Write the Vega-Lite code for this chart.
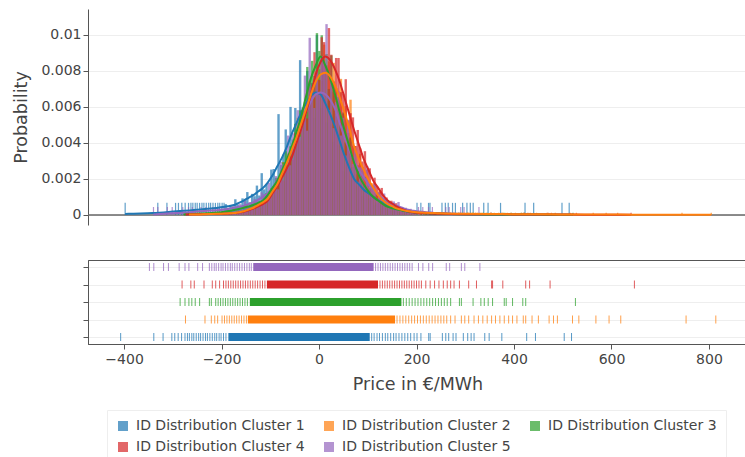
{
"$schema": "https://vega.github.io/schema/vega-lite/v6.json",
"background": "white",
"padding": {"left": 12, "top": 9, "right": 0, "bottom": 0},
"spacing": 34,
"config": {
  "font": "DejaVu Sans",
  "view": {"stroke": null},
  "axis": {"labelFont": "DejaVu Sans", "titleFont": "DejaVu Sans", "labelColor": "#444", "titleColor": "#444", "labelFontSize": 14, "titleFontSize": 17.5, "titleFontWeight": "normal", "domainColor": "#555", "tickColor": "#555", "tickSize": 5, "gridColor": "#eeeeee"}
},
"datasets": {
"clusters": [{"c":"1","h":0.00067},{"c":"2","h":0.00012},{"c":"3","h":0.00012},{"c":"4","h":0.00012},{"c":"5","h":0.00044}],
"band": [{"c":"1","lo":-186,"hi":104},{"c":"2","lo":-146,"hi":156},{"c":"3","lo":-142,"hi":169},{"c":"4","lo":-107,"hi":121},{"c":"5","lo":-135,"hi":112}],
"hist": [
{"a":-200,"b":-195,"1":0.0006,"2":0.00009,"3":0.00017,"4":0.00008,"5":0.00025},
{"a":-195,"b":-190,"1":0.00034,"2":0.00008,"3":0.00025,"4":0.00007,"5":0.00041},
{"a":-190,"b":-185,"1":0.00056,"2":0.00011,"3":0.00023,"4":0.0001,"5":0.00022},
{"a":-185,"b":-180,"1":0.00043,"2":0.00008,"3":0.00021,"4":0.00009,"5":0.00055},
{"a":-180,"b":-175,"1":0.00087,"2":0.00011,"3":0.00032,"4":0.00013,"5":0.00041},
{"a":-175,"b":-170,"1":0.00058,"2":0.00016,"3":0.0003,"4":0.00013,"5":0.00031},
{"a":-170,"b":-165,"1":0.00043,"2":0.00014,"3":0.00039,"4":0.00012,"5":0.0006},
{"a":-165,"b":-160,"1":0.00092,"2":0.00021,"3":0.00032,"4":0.00019,"5":0.00044},
{"a":-160,"b":-155,"1":0.00084,"2":0.00021,"3":0.0005,"4":0.00019,"5":0.0008},
{"a":-155,"b":-150,"1":0.00127,"2":0.00034,"3":0.00046,"4":0.00028,"5":0.00046},
{"a":-150,"b":-145,"1":0.00069,"2":0.00029,"3":0.00044,"4":0.00026,"5":0.00069},
{"a":-145,"b":-140,"1":0.00117,"2":0.00039,"3":0.00058,"4":0.00035,"5":0.00048},
{"a":-140,"b":-135,"1":0.00104,"2":0.00035,"3":0.00073,"4":0.00046,"5":0.00089},
{"a":-135,"b":-130,"1":0.00163,"2":0.00059,"3":0.00059,"4":0.00037,"5":0.00081},
{"a":-130,"b":-125,"1":0.00108,"2":0.00059,"3":0.00071,"4":0.00051,"5":0.00053},
{"a":-125,"b":-120,"1":0.00232,"2":0.00059,"3":0.00065,"4":0.00063,"5":0.00125},
{"a":-120,"b":-115,"1":0.00142,"2":0.0009,"3":0.00097,"4":0.00059,"5":0.00116},
{"a":-115,"b":-110,"1":0.00172,"2":0.00081,"3":0.00122,"4":0.00086,"5":0.00092},
{"a":-110,"b":-105,"1":0.00133,"2":0.0011,"3":0.00108,"4":0.00086,"5":0.00179},
{"a":-105,"b":-100,"1":0.00252,"2":0.00102,"3":0.00147,"4":0.00116,"5":0.00129},
{"a":-100,"b":-95,"1":0.00255,"2":0.00147,"3":0.00152,"4":0.00156,"5":0.0016},
{"a":-95,"b":-90,"1":0.00206,"2":0.00184,"3":0.00207,"4":0.00135,"5":0.00216},
{"a":-90,"b":-85,"1":0.0056,"2":0.00167,"3":0.00205,"4":0.00173,"5":0.00142},
{"a":-85,"b":-80,"1":0.00277,"2":0.00215,"3":0.00212,"4":0.00218,"5":0.00296},
{"a":-80,"b":-75,"1":0.00335,"2":0.00294,"3":0.00292,"4":0.0019,"5":0.00281},
{"a":-75,"b":-70,"1":0.00475,"2":0.00234,"3":0.00354,"4":0.00285,"5":0.00257},
{"a":-70,"b":-65,"1":0.00318,"2":0.00341,"3":0.00279,"4":0.00261,"5":0.00441},
{"a":-65,"b":-60,"1":0.006,"2":0.00328,"3":0.00381,"4":0.00336,"5":0.00276},
{"a":-60,"b":-55,"1":0.00419,"2":0.00399,"3":0.0038,"4":0.00306,"5":0.00454},
{"a":-55,"b":-50,"1":0.00594,"2":0.00374,"3":0.00506,"4":0.00456,"5":0.00413},
{"a":-50,"b":-45,"1":0.00446,"2":0.0054,"3":0.00435,"4":0.0042,"5":0.00582},
{"a":-45,"b":-40,"1":0.0086,"2":0.0049,"3":0.00581,"4":0.00414,"5":0.00435},
{"a":-40,"b":-35,"1":0.00582,"2":0.00477,"3":0.00578,"4":0.00553,"5":0.00596},
{"a":-35,"b":-30,"1":0.00547,"2":0.00627,"3":0.00538,"4":0.00575,"5":0.00774},
{"a":-30,"b":-25,"1":0.008,"2":0.0058,"3":0.00822,"4":0.00536,"5":0.00468},
{"a":-25,"b":-20,"1":0.00618,"2":0.00748,"3":0.00735,"4":0.00742,"5":0.00984},
{"a":-20,"b":-15,"1":0.00732,"2":0.0069,"3":0.00856,"4":0.00663,"5":0.00704},
{"a":-15,"b":-10,"1":0.0054,"2":0.00653,"3":0.00772,"4":0.00904,"5":0.00594},
{"a":-10,"b":-5,"1":0.01,"2":0.00825,"3":0.0101,"4":0.00798,"5":0.00808},
{"a":-5,"b":0,"1":0.00675,"2":0.00809,"3":0.00911,"4":0.0075,"5":0.00678},
{"a":0,"b":5,"1":0.00594,"2":0.00744,"3":0.00998,"4":0.00987,"5":0.00881},
{"a":5,"b":10,"1":0.00826,"2":0.00946,"3":0.00801,"4":0.0096,"5":0.00841},
{"a":10,"b":15,"1":0.00514,"2":0.00785,"3":0.00894,"4":0.00831,"5":0.0106},
{"a":15,"b":20,"1":0.00633,"2":0.00853,"3":0.007,"4":0.01038,"5":0.00583},
{"a":20,"b":25,"1":0.0054,"2":0.00684,"3":0.00886,"4":0.0089,"5":0.00754},
{"a":25,"b":30,"1":0.00406,"2":0.00845,"3":0.00693,"4":0.00741,"5":0.00482},
{"a":30,"b":35,"1":0.00564,"2":0.00705,"3":0.00548,"4":0.00872,"5":0.00627},
{"a":35,"b":40,"1":0.00387,"2":0.0057,"3":0.00655,"4":0.00872,"5":0.00689},
{"a":40,"b":45,"1":0.00546,"2":0.00756,"3":0.00518,"4":0.00682,"5":0.00441},
{"a":45,"b":50,"1":0.00242,"2":0.0056,"3":0.00569,"4":0.00673,"5":0.0054},
{"a":50,"b":55,"1":0.00336,"2":0.00605,"3":0.00403,"4":0.00754,"5":0.0033},
{"a":55,"b":60,"1":0.00358,"2":0.00455,"3":0.00423,"4":0.00525,"5":0.00529},
{"a":60,"b":65,"1":0.00196,"2":0.0064,"3":0.0043,"4":0.00565,"5":0.00345},
{"a":65,"b":70,"1":0.00215,"2":0.00385,"3":0.00266,"4":0.00542,"5":0.00284},
{"a":70,"b":75,"1":0.0023,"2":0.00383,"3":0.00273,"4":0.00383,"5":0.00374},
{"a":75,"b":80,"1":0.0016,"2":0.00276,"3":0.00262,"4":0.00472,"5":0.00184},
{"a":80,"b":85,"1":0.00243,"2":0.00339,"3":0.00189,"4":0.0037,"5":0.00264},
{"a":85,"b":90,"1":0.00104,"2":0.00265,"3":0.0022,"4":0.00297,"5":0.00264},
{"a":90,"b":95,"1":0.00135,"2":0.00212,"3":0.0016,"4":0.00354,"5":0.0016},
{"a":95,"b":100,"1":0.00163,"2":0.00252,"3":0.00119,"4":0.00252,"5":0.0027},
{"a":100,"b":105,"1":0.00092,"2":0.00148,"3":0.00141,"4":0.00259,"5":0.00147},
{"a":105,"b":110,"1":0.00116,"2":0.00176,"3":0.00103,"4":0.00164,"5":0.00148},
{"a":110,"b":115,"1":0.00057,"2":0.0014,"3":0.00105,"4":0.00207,"5":0.00173},
{"a":115,"b":120,"1":0.00119,"2":0.00108,"3":0.00068,"4":0.0016,"5":0.00083},
{"a":120,"b":125,"1":0.00077,"2":0.00134,"3":0.0009,"4":0.00126,"5":0.00126},
{"a":125,"b":130,"1":0.00063,"2":0.00075,"3":0.00065,"4":0.0015,"5":0.00086},
{"a":130,"b":135,"1":0.00076,"2":0.00083,"3":0.0005,"4":0.00088,"5":0.00119},
{"a":135,"b":140,"1":0.00041,"2":0.00059,"3":0.00064,"4":0.00097,"5":0.00045},
{"a":140,"b":145,"1":0.00068,"2":0.00067,"3":0.00034,"4":0.00067,"5":0.00075},
{"a":145,"b":150,"1":0.00042,"2":0.0004,"3":0.00043,"4":0.00079,"5":0.00063},
{"a":150,"b":155,"1":0.00067,"2":0.00044,"3":0.00032,"4":0.00046,"5":0.00075},
{"a":155,"b":160,"1":0.0003,"2":0.00049,"3":0.00037,"4":0.00065,"5":0.00037},
{"a":160,"b":165,"1":0.00033,"2":0.00023,"3":0.0002,"4":0.00038,"5":0.00072},
{"a":165,"b":170,"1":0.0002,"2":0.00033,"3":0.00034,"4":0.00036,"5":0.00034},
{"a":170,"b":175,"1":0.00036,"2":0.00024,"3":0.00024,"4":0.00036,"5":0.00038},
{"a":175,"b":180,"1":0.0002,"2":0.00029,"3":0.00017,"4":0.00018,"5":0.0004},
{"a":180,"b":185,"1":0.00023,"2":0.00017,"3":0.00023,"4":0.00022,"5":0.00017},
{"a":185,"b":190,"1":0.0001,"2":0.00027,"3":0.00015,"4":0.00016,"5":0.00034},
{"a":190,"b":195,"1":0.00017,"2":0.00012,"3":0.00015,"4":0.0002,"5":0.00021},
{"a":195,"b":200,"1":0.00018,"2":0.00015,"3":0.0001,"4":0.0001,"5":0.00023}
],
"kde": [
{"x":-407,"1":0.00005},
{"x":-400,"1":0.00006},
{"x":-350,"1":0.0001},
{"x":-348,"5":0.00003},
{"x":-300,"1":0.0002,"5":0.0001},
{"x":-285,"3":0.00003},
{"x":-281,"4":0.00002},
{"x":-274,"2":0.00002},
{"x":-250,"1":0.0003,"2":0.00003,"3":0.00008,"4":0.00004,"5":0.0002},
{"x":-200,"1":0.00045,"2":0.00008,"3":0.00018,"4":0.00007,"5":0.0003},
{"x":-190,"1":0.0005,"2":0.00009,"3":0.00022,"4":0.000085,"5":0.00035},
{"x":-180,"1":0.00055,"2":0.0001,"3":0.00027,"4":0.0001,"5":0.0004},
{"x":-170,"1":0.00067,"2":0.00015,"3":0.00033,"4":0.00014,"5":0.00045},
{"x":-160,"1":0.0008,"2":0.0002,"3":0.0004,"4":0.00018,"5":0.0005},
{"x":-150,"1":0.00095,"2":0.0003,"3":0.00047,"4":0.00026,"5":0.0006},
{"x":-140,"1":0.0011,"2":0.0004,"3":0.00055,"4":0.00035,"5":0.0007},
{"x":-130,"1":0.0013,"2":0.00055,"3":0.00067,"4":0.00047,"5":0.00085},
{"x":-120,"1":0.0015,"2":0.0007,"3":0.0008,"4":0.0006,"5":0.001},
{"x":-110,"1":0.0018,"2":0.0009,"3":0.0011,"4":0.0008,"5":0.0012},
{"x":-100,"1":0.0022,"2":0.0013,"3":0.0015,"4":0.0012,"5":0.0015},
{"x":-90,"1":0.0027,"2":0.0017,"3":0.0019,"4":0.0016,"5":0.0019},
{"x":-80,"1":0.0032,"2":0.0023,"3":0.0025,"4":0.0021,"5":0.0024},
{"x":-70,"1":0.0038,"2":0.0029,"3":0.0031,"4":0.0026,"5":0.003},
{"x":-60,"1":0.0045,"2":0.0036,"3":0.0038,"4":0.0032,"5":0.0036},
{"x":-50,"1":0.0051,"2":0.0043,"3":0.0046,"4":0.004,"5":0.0043},
{"x":-40,"1":0.0057,"2":0.0051,"3":0.0055,"4":0.0048,"5":0.005},
{"x":-30,"1":0.0062,"2":0.0059,"3":0.0066,"4":0.0057,"5":0.0057},
{"x":-20,"1":0.0066,"2":0.0067,"3":0.0076,"4":0.0067,"5":0.0063},
{"x":-10,"1":0.0068,"2":0.0074,"3":0.0083,"4":0.0078,"5":0.0067},
{"x":0,"1":0.0067,"2":0.0078,"3":0.0088,"4":0.0085,"5":0.0068},
{"x":10,"1":0.0062,"2":0.0079,"3":0.0083,"4":0.0088,"5":0.0067},
{"x":20,"1":0.0056,"2":0.0077,"3":0.0076,"4":0.0086,"5":0.0064},
{"x":30,"1":0.0049,"2":0.0072,"3":0.0067,"4":0.0081,"5":0.0059},
{"x":40,"1":0.0041,"2":0.0065,"3":0.0057,"4":0.0074,"5":0.0051},
{"x":50,"1":0.0033,"2":0.0057,"3":0.0047,"4":0.0065,"5":0.0043},
{"x":60,"1":0.0026,"2":0.0048,"3":0.0038,"4":0.0056,"5":0.0036},
{"x":70,"1":0.002,"2":0.0038,"3":0.0029,"4":0.0047,"5":0.003},
{"x":80,"1":0.0017,"2":0.0031,"3":0.0022,"4":0.0039,"5":0.0025},
{"x":90,"1":0.0014,"2":0.0025,"3":0.0017,"4":0.0031,"5":0.0021},
{"x":100,"1":0.0012,"2":0.00195,"3":0.0013,"4":0.0025,"5":0.0017},
{"x":110,"1":0.001,"2":0.0015,"3":0.001,"4":0.0019,"5":0.0014},
{"x":120,"1":0.0008,"2":0.0011,"3":0.0008,"4":0.0015,"5":0.0011},
{"x":130,"1":0.00067,"2":0.0008,"3":0.0006,"4":0.0011,"5":0.0009},
{"x":140,"1":0.00055,"2":0.0006,"3":0.00045,"4":0.0008,"5":0.0007},
{"x":150,"1":0.00045,"2":0.00047,"3":0.00037,"4":0.00062,"5":0.0006},
{"x":160,"1":0.00035,"2":0.00035,"3":0.0003,"4":0.00045,"5":0.0005},
{"x":170,"1":0.00027,"2":0.00028,"3":0.00025,"4":0.00032,"5":0.0004},
{"x":180,"1":0.0002,"2":0.00022,"3":0.0002,"4":0.00022,"5":0.0003},
{"x":190,"1":0.00016,"2":0.00018,"3":0.00016,"4":0.00016,"5":0.00025},
{"x":200,"1":0.00013,"2":0.00015,"3":0.00012,"4":0.00012,"5":0.0002},
{"x":210,"1":0.00011,"2":0.00013,"3":0.0001,"4":0.0001,"5":0.00017},
{"x":220,"1":0.0001,"2":0.00012,"3":0.00009,"4":0.00009,"5":0.00015},
{"x":230,"1":0.00009,"2":0.00011,"3":0.00008,"4":0.00008,"5":0.00013},
{"x":240,"1":0.00008,"2":0.0001,"3":0.000075,"4":0.00007,"5":0.00011},
{"x":250,"1":0.00007,"2":0.00009,"3":0.00007,"4":0.00006,"5":0.0001},
{"x":300,"1":0.00005,"2":0.00006,"3":0.00004,"4":0.00004,"5":0.00005},
{"x":330,"5":0.00003},
{"x":350,"1":0.000035,"2":0.00005,"3":0.00003,"4":0.000035},
{"x":400,"1":0.000025,"2":0.00004,"3":0.000025,"4":0.00003},
{"x":450,"1":0.00002,"2":0.000035,"3":0.00002,"4":0.000025},
{"x":500,"1":0.000015,"2":0.00003,"3":0.000012,"4":0.00002},
{"x":518,"1":0.00001},
{"x":526,"3":0.00001},
{"x":550,"2":0.000025,"4":0.000015},
{"x":600,"2":0.00002,"4":0.00001},
{"x":647,"4":0.000005},
{"x":650,"2":0.000015},
{"x":700,"2":0.00001},
{"x":750,"2":0.00001},
{"x":814,"2":0.000005}
],
"rug": [
{"c":"1","x":-407},{"c":"1","x":-339},{"c":"1","x":-320},{"c":"1","x":-302},{"c":"1","x":-296},{"c":"1","x":-289},{"c":"1","x":-282},{"c":"1","x":-275},{"c":"1","x":-270},{"c":"1","x":-266},{"c":"1","x":-261},{"c":"1","x":-257},{"c":"1","x":-252},{"c":"1","x":-247},{"c":"1","x":-243},{"c":"1","x":-238},{"c":"1","x":-233},{"c":"1","x":-229},{"c":"1","x":-224},{"c":"1","x":-219},{"c":"1","x":-214},{"c":"1","x":-210},{"c":"1","x":-205},{"c":"1","x":-201},{"c":"1","x":-196},{"c":"1","x":-191},
{"c":"1","x":108},{"c":"1","x":113},{"c":"1","x":119},{"c":"1","x":124},{"c":"1","x":130},{"c":"1","x":136},{"c":"1","x":141},{"c":"1","x":147},{"c":"1","x":153},{"c":"1","x":158},{"c":"1","x":164},{"c":"1","x":170},{"c":"1","x":176},{"c":"1","x":182},{"c":"1","x":188},{"c":"1","x":195},{"c":"1","x":201},{"c":"1","x":209},{"c":"1","x":225},{"c":"1","x":228},{"c":"1","x":253},{"c":"1","x":260},{"c":"1","x":266},{"c":"1","x":275},{"c":"1","x":281},{"c":"1","x":296},{"c":"1","x":305},{"c":"1","x":312},{"c":"1","x":318},{"c":"1","x":340},{"c":"1","x":349},{"c":"1","x":375},{"c":"1","x":426},{"c":"1","x":444},{"c":"1","x":503},{"c":"1","x":518},
{"c":"2","x":-274},{"c":"2","x":-234},{"c":"2","x":-221},{"c":"2","x":-214},{"c":"2","x":-208},{"c":"2","x":-199},{"c":"2","x":-194},{"c":"2","x":-189},{"c":"2","x":-184},{"c":"2","x":-179},{"c":"2","x":-174},{"c":"2","x":-169},{"c":"2","x":-164},{"c":"2","x":-159},{"c":"2","x":-154},{"c":"2","x":-149},
{"c":"2","x":160},{"c":"2","x":166},{"c":"2","x":172},{"c":"2","x":178},{"c":"2","x":184},{"c":"2","x":190},{"c":"2","x":196},{"c":"2","x":202},{"c":"2","x":208},{"c":"2","x":214},{"c":"2","x":220},{"c":"2","x":226},{"c":"2","x":232},{"c":"2","x":238},{"c":"2","x":244},{"c":"2","x":250},{"c":"2","x":256},{"c":"2","x":262},{"c":"2","x":270},{"c":"2","x":279},{"c":"2","x":292},{"c":"2","x":299},{"c":"2","x":307},{"c":"2","x":318},{"c":"2","x":327},{"c":"2","x":336},{"c":"2","x":345},{"c":"2","x":354},{"c":"2","x":362},{"c":"2","x":371},{"c":"2","x":380},{"c":"2","x":389},{"c":"2","x":397},{"c":"2","x":406},{"c":"2","x":419},{"c":"2","x":424},{"c":"2","x":437},{"c":"2","x":450},{"c":"2","x":472},{"c":"2","x":481},{"c":"2","x":489},{"c":"2","x":520},{"c":"2","x":533},{"c":"2","x":568},{"c":"2","x":595},{"c":"2","x":619},{"c":"2","x":753},{"c":"2","x":814},
{"c":"3","x":-285},{"c":"3","x":-275},{"c":"3","x":-267},{"c":"3","x":-261},{"c":"3","x":-254},{"c":"3","x":-245},{"c":"3","x":-225},{"c":"3","x":-221},{"c":"3","x":-212},{"c":"3","x":-207},{"c":"3","x":-202},{"c":"3","x":-197},{"c":"3","x":-192},{"c":"3","x":-187},{"c":"3","x":-182},{"c":"3","x":-177},{"c":"3","x":-172},{"c":"3","x":-167},{"c":"3","x":-162},{"c":"3","x":-157},{"c":"3","x":-152},{"c":"3","x":-147},
{"c":"3","x":173},{"c":"3","x":179},{"c":"3","x":185},{"c":"3","x":191},{"c":"3","x":197},{"c":"3","x":203},{"c":"3","x":209},{"c":"3","x":215},{"c":"3","x":221},{"c":"3","x":227},{"c":"3","x":233},{"c":"3","x":239},{"c":"3","x":245},{"c":"3","x":251},{"c":"3","x":257},{"c":"3","x":263},{"c":"3","x":270},{"c":"3","x":288},{"c":"3","x":292},{"c":"3","x":316},{"c":"3","x":332},{"c":"3","x":339},{"c":"3","x":347},{"c":"3","x":356},{"c":"3","x":380},{"c":"3","x":384},{"c":"3","x":397},{"c":"3","x":418},{"c":"3","x":424},{"c":"3","x":526},
{"c":"4","x":-281},{"c":"4","x":-263},{"c":"4","x":-256},{"c":"4","x":-236},{"c":"4","x":-219},{"c":"4","x":-212},{"c":"4","x":-204},{"c":"4","x":-196},{"c":"4","x":-191},{"c":"4","x":-186},{"c":"4","x":-181},{"c":"4","x":-176},{"c":"4","x":-171},{"c":"4","x":-166},{"c":"4","x":-161},{"c":"4","x":-156},{"c":"4","x":-151},{"c":"4","x":-146},{"c":"4","x":-141},{"c":"4","x":-136},{"c":"4","x":-131},{"c":"4","x":-126},{"c":"4","x":-121},{"c":"4","x":-116},{"c":"4","x":-111},
{"c":"4","x":125},{"c":"4","x":130},{"c":"4","x":135},{"c":"4","x":140},{"c":"4","x":145},{"c":"4","x":150},{"c":"4","x":155},{"c":"4","x":160},{"c":"4","x":165},{"c":"4","x":170},{"c":"4","x":175},{"c":"4","x":180},{"c":"4","x":185},{"c":"4","x":190},{"c":"4","x":195},{"c":"4","x":200},{"c":"4","x":205},{"c":"4","x":210},{"c":"4","x":219},{"c":"4","x":228},{"c":"4","x":237},{"c":"4","x":246},{"c":"4","x":255},{"c":"4","x":263},{"c":"4","x":270},{"c":"4","x":277},{"c":"4","x":288},{"c":"4","x":307},{"c":"4","x":323},{"c":"4","x":354},{"c":"4","x":356},{"c":"4","x":377},{"c":"4","x":424},{"c":"4","x":432},{"c":"4","x":474},{"c":"4","x":647},
{"c":"5","x":-348},{"c":"5","x":-339},{"c":"5","x":-319},{"c":"5","x":-309},{"c":"5","x":-287},{"c":"5","x":-275},{"c":"5","x":-267},{"c":"5","x":-249},{"c":"5","x":-239},{"c":"5","x":-225},{"c":"5","x":-220},{"c":"5","x":-215},{"c":"5","x":-211},{"c":"5","x":-206},{"c":"5","x":-201},{"c":"5","x":-197},{"c":"5","x":-192},{"c":"5","x":-187},{"c":"5","x":-182},{"c":"5","x":-178},{"c":"5","x":-173},{"c":"5","x":-168},{"c":"5","x":-163},{"c":"5","x":-158},{"c":"5","x":-153},{"c":"5","x":-148},{"c":"5","x":-143},{"c":"5","x":-139},
{"c":"5","x":116},{"c":"5","x":121},{"c":"5","x":126},{"c":"5","x":131},{"c":"5","x":136},{"c":"5","x":141},{"c":"5","x":146},{"c":"5","x":151},{"c":"5","x":156},{"c":"5","x":161},{"c":"5","x":166},{"c":"5","x":171},{"c":"5","x":176},{"c":"5","x":181},{"c":"5","x":186},{"c":"5","x":191},{"c":"5","x":204},{"c":"5","x":213},{"c":"5","x":225},{"c":"5","x":233},{"c":"5","x":261},{"c":"5","x":268},{"c":"5","x":292},{"c":"5","x":299},{"c":"5","x":330}
]
},
"vconcat": [
{
  "width": 659, "height": 216,
  "encoding": {
    "x": {"type": "quantitative", "scale": {"domain": [-474, 878], "nice": false, "zero": false}, "axis": null},
    "y": {"type": "quantitative", "scale": {"domain": [-0.00056, 0.01144], "nice": false, "zero": false},
          "axis": {"title": "Probability", "values": [0, 0.002, 0.004, 0.006, 0.008, 0.01], "format": "~g", "grid": true, "tickSize": 5, "labelPadding": 2, "titlePadding": 10}}
  },
  "layer": [
    {
      "data": {"values": [{}]},
      "mark": {"type": "rule", "color": "#666", "strokeWidth": 1.5},
      "encoding": {"y": {"datum": 0, "type": "quantitative"}}
    },
    {
      "data": {"name": "hist"},
      "transform": [{"fold": ["1","2","3","4","5"], "as": ["c","p"]}],
      "mark": {"type": "bar", "opacity": 0.7, "orient": "vertical"},
      "encoding": {
        "x": {"field": "a", "type": "quantitative"},
        "x2": {"field": "b"},
        "y": {"field": "p", "type": "quantitative", "stack": null},
        "y2": {"datum": 0},
        "color": {"field": "c", "type": "nominal",
          "scale": {"domain": ["1","2","3","4","5"], "range": ["#1f77b4","#ff7f0e","#2ca02c","#d62728","#9467bd"]},
          "legend": {"orient": "none", "legendX": 19, "legendY": 401, "direction": "horizontal", "columns": 3, "title": null,
            "symbolType": "square", "symbolSize": 100, "symbolOpacity": 0.7, "symbolStrokeWidth": 0,
            "labelFontSize": 14, "labelColor": "#444", "labelFont": "DejaVu Sans", "labelOffset": 6, "labelLimit": 300,
            "columnPadding": 17, "rowPadding": 7, "padding": 9, "strokeColor": "#eeeeee", "fillColor": "white",
            "labelExpr": "'ID Distribution Cluster ' + datum.label"}}
      }
    },
    {
      "data": {"name": "rug"},
      "transform": [{"filter": "abs(datum.x) > 200"}, {"lookup": "c", "from": {"data": {"name": "clusters"}, "key": "c", "fields": ["h"]}}],
      "mark": {"type": "rule", "opacity": 0.7, "strokeWidth": 1.2},
      "encoding": {
        "x": {"field": "x", "type": "quantitative"},
        "y": {"field": "h", "type": "quantitative"},
        "y2": {"datum": 0},
        "color": {"field": "c", "type": "nominal", "legend": null}
      }
    },
    {
      "data": {"name": "kde"},
      "transform": [{"fold": ["1","2","3","4","5"], "as": ["c","v"]}, {"filter": "isValid(datum.v)"}],
      "mark": {"type": "line", "strokeWidth": 2, "interpolate": "monotone"},
      "encoding": {
        "x": {"field": "x", "type": "quantitative"},
        "y": {"field": "v", "type": "quantitative"},
        "color": {"field": "c", "type": "nominal", "legend": null}
      }
    }
  ]
},
{
  "width": 659, "height": 84,
  "view": {"stroke": "#555"},
  "encoding": {
    "x": {"type": "quantitative", "scale": {"domain": [-474, 878], "nice": false, "zero": false},
          "axis": {"title": "Price in €/MWh", "values": [-400, -200, 0, 200, 400, 600, 800], "grid": false, "tickSize": 5, "labelPadding": 3, "titlePadding": 9}},
    "y": {"field": "c", "type": "nominal", "scale": {"type": "point", "domain": ["5","4","3","2","1"], "padding": 0.4},
          "axis": {"title": null, "labels": false, "ticks": true, "tickSize": 5, "grid": true}},
    "color": {"field": "c", "type": "nominal", "legend": null}
  },
  "layer": [
    {
      "data": {"name": "band"},
      "mark": {"type": "bar", "size": 8, "orient": "horizontal"},
      "encoding": {
        "x": {"field": "lo", "type": "quantitative"},
        "x2": {"field": "hi"}
      }
    },
    {
      "data": {"name": "rug"},
      "mark": {"type": "tick", "orient": "vertical", "size": 8, "thickness": 1, "opacity": 0.75},
      "encoding": {
        "x": {"field": "x", "type": "quantitative"}
      }
    }
  ]
}
]
}
